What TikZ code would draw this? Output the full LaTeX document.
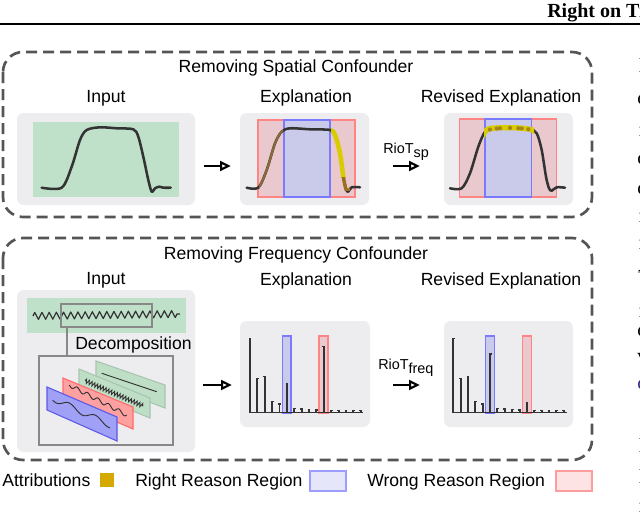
\documentclass[tikz,border=0pt]{standalone}
\usepackage{fontspec}
\setmainfont{Liberation Sans}
\newfontfamily\serifreg{Liberation Serif}
\usetikzlibrary{arrows.meta,decorations.pathmorphing}
\definecolor{boxgray}{HTML}{555555}
\definecolor{panelgray}{HTML}{EDEDF0}
\definecolor{sig}{HTML}{333333}
\definecolor{greenbg}{HTML}{BFE0C9}
\definecolor{regblue}{HTML}{7A7AFF}
\definecolor{regbluefill}{HTML}{CACAEA}
\definecolor{regred}{HTML}{FF8585}
\definecolor{regredfill}{HTML}{E9C9CD}
\definecolor{attr}{HTML}{D6CC00}
\definecolor{attrdark}{HTML}{9A7020}
\definecolor{attrbrown}{HTML}{8A6A3A}
\definecolor{gold}{HTML}{D4A900}
\definecolor{legblue}{HTML}{E6E6FA}
\definecolor{legblueline}{HTML}{9D9DFF}
\definecolor{legred}{HTML}{FDE3E3}
\definecolor{legredline}{HTML}{FF9D9D}
\definecolor{outline}{HTML}{888888}
\definecolor{pgreen}{HTML}{BEDFC6}
\definecolor{pgreenline}{HTML}{A8C4B0}
\definecolor{pred}{HTML}{FFA0A0}
\definecolor{predline}{HTML}{FF6B6B}
\definecolor{pblue}{HTML}{A0A0F6}
\definecolor{pblueline}{HTML}{5A5AE6}
\definecolor{linkblue}{HTML}{303090}
\begin{document}
\begin{tikzpicture}[x=0.75pt,y=-0.75pt,
  frame/.style={draw=boxgray, line width=2pt, dash pattern=on 8.25pt off 4.5pt, rounded corners=15pt},
  panel/.style={fill=panelgray, rounded corners=5pt, inner sep=0pt, draw=none},
  title/.style={font=\fontsize{13.2}{15}\selectfont, anchor=base, inner sep=0pt},
  lbl/.style={font=\fontsize{10.8}{12}\selectfont, anchor=base west, inner sep=0pt},
  sigline/.style={draw=sig, line width=1.9pt, line cap=round, line join=round},
  flow/.style={-{Triangle[open, length=8pt, width=7.5pt, line width=1.6pt]}, line width=1.6pt, draw=black},
  redreg/.style={fill=regredfill, draw=regred, line width=1.1pt},
  bluereg/.style={fill=regbluefill, draw=regblue, line width=1.1pt},
  redbar/.style={fill=regredfill, draw=regred, line width=0.9pt},
  bluebar/.style={fill=regbluefill, draw=regblue, line width=0.9pt},
  stemline/.style={draw=sig, line width=1.45pt},
  axisline/.style={draw=sig, line width=0.9pt},
  outl/.style={draw=outline, line width=1.1pt, inner sep=0pt},
  thin/.style={draw=sig, line width=0.7pt},
  frag/.style={font=\serifreg\fontsize{15}{18}\selectfont, anchor=base west, inner sep=0pt}
]
\clip (0,0) rectangle (640,514);
\fill[white] (0,0) rectangle (640,514);

% header of the page
\node[anchor=base west, inner sep=0pt, font=\serifreg\bfseries\fontsize{15}{18}\selectfont] (hdr) at (547,17) {Right on Time};
\draw[line width=1.2pt] (0,24) -- (640,24);

% fragments of the neighbouring text column
\foreach \yy/\ch/\xx in {72/l/638.5, 104/c/637, 136/n/638.5, 164/c/637, 194/c/637, 222/r/638.5, 249/r/638.5, 283/T/638, 317/n/638.5, 336/c/637, 362/v/637, 452/l/638.5, 483/l/638.5, 512/n/638.5}
  \node[frag] at (\xx,\yy) {\ch};
\node[frag, text=linkblue] at (637,389) {c};

% ---------------- top frame
\draw[frame] (3,52) rectangle (592,217);
\node[title] (t1) at (296,72) {Removing Spatial Confounder};
\node[title] at (106,102.5) {Input};
\node[title] at (306,102.5) {Explanation};
\node[title] at (501,102.5) {Revised Explanation};

\node[panel, minimum width=133.5pt, minimum height=69pt] (inA) at (106,159) {};
\node[panel, minimum width=96.75pt, minimum height=69pt] (exA) at (304.5,159) {};
\node[panel, minimum width=96.75pt, minimum height=69pt] (reA) at (508.5,159) {};

% input
\fill[greenbg] (33,122) rectangle (179,197);
\draw[sigline] plot[smooth, tension=0.5] coordinates {(41.7,187.7) (61.7,187.7) (71.7,166.7) (80,140) (86.7,130) (100,127.3) (116.7,128.3) (133.3,129.3) (138.3,136.7) (143.3,156.7) (148.3,180) (151.7,191.7) (155,188.3) (159.3,186.7) (163.3,187.7) (170.7,187.7)};

% explanation
\filldraw[redreg] (258,120) rectangle (284,197);
\filldraw[redreg] (330,120) rectangle (355,197);
\filldraw[bluereg] (284,120) rectangle (330,197);
\def\curveA{(246.7,187.7) (258.3,187.7) (266.7,170) (275,143.3) (281.7,131.7) (290,128.3) (310,129.3) (330,130) (335,135) (340,153.3) (343.3,176.7) (346,189.3) (348.3,191.7) (351.7,187.3) (360,187.3)}
\draw[sigline] plot[smooth, tension=0.5] coordinates {\curveA};
\begin{scope}
  \clip (259,100) rectangle (283,200);
  \draw[line width=1.6pt, draw=attrbrown] plot[smooth, tension=0.5] coordinates {\curveA};
\end{scope}
\begin{scope}
  \clip (331,100) rectangle (350,177);
  \draw[line width=3.4pt, draw=attr] plot[smooth, tension=0.5] coordinates {\curveA};
\end{scope}
\begin{scope}
  \clip (338,177) rectangle (350,190);
  \draw[line width=2.6pt, draw=attrdark] plot[smooth, tension=0.5] coordinates {\curveA};
\end{scope}

% revised explanation
\filldraw[redreg] (459.3,119) rectangle (485,197);
\filldraw[redreg] (531.7,119) rectangle (556.7,197);
\filldraw[bluereg] (485,119) rectangle (531.7,197);
\def\curveB{(450,188.3) (461.7,188.3) (470,173.3) (478.3,146.7) (485,131.7) (491.7,128.3) (513.3,127.7) (530,129.3) (536.7,133.3) (541.7,150) (546,176.7) (549,188.3) (551.7,190.7) (556.7,187.3) (565,187.7)}
\draw[sigline] plot[smooth, tension=0.5] coordinates {\curveB};
\begin{scope}
  \clip (484,100) rectangle (534,140);
  \draw[line width=4pt, draw=attr] plot[smooth, tension=0.5] coordinates {\curveB};
\end{scope}
\foreach \xx/\yy in {490/129.6, 496.7/128.6, 500/128.3, 510/127.9, 518.3/128.2, 521.7/128.4, 528.3/129.2}
  \fill[attrdark, opacity=0.75] (\xx,\yy) circle (1.6pt);

% arrows
\draw[flow] ([xshift=6.75pt,yshift=-5.25pt]inA.east) -- ([xshift=-6.75pt,yshift=-5.25pt]exA.west);
\draw[flow] ([xshift=18pt,yshift=-5.25pt]exA.east) -- ([xshift=-18pt,yshift=-5.25pt]reA.west);
\node[lbl] (rsp) at (383,153) {RioT\raisebox{-3pt}{sp}};

% ---------------- bottom frame
\draw[frame] (3,238) rectangle (592,460);
\node[title] (t2) at (296,259) {Removing Frequency Confounder};
\node[title] at (106,284) {Input};
\node[title] at (306,285) {Explanation};
\node[title] at (501,285) {Revised Explanation};

\node[panel, minimum width=133.5pt, minimum height=121.5pt] (inB) at (106,371) {};
\node[panel, minimum width=97.5pt, minimum height=79.5pt] (exB) at (305,374) {};
\node[panel, minimum width=96.75pt, minimum height=79.5pt] (reB) at (508.5,374) {};

% input with decomposition
\fill[greenbg] (27,298) rectangle (186,333);
\draw[draw=sig, line width=0.9pt, line join=round, decorate, decoration={zigzag, segment length=5.4pt, amplitude=2.6pt}] (33,316) -- (180,314);
\node[outl, minimum width=68.25pt, minimum height=17.25pt] (win) at (106.5,315.5) {};
\node[outl, minimum width=100.5pt, minimum height=66.75pt] (dec) at (106,400.5) {};
\draw[draw=outline, line width=1.1pt] ([xshift=5pt]win.south west) -- ([xshift=5pt]win.south west |- dec.north);
\node[title, anchor=base west] (dtxt) at (75,349) {Decomposition};

% stacked component planes
\filldraw[fill=pgreen, draw=pgreenline, line width=0.8pt] (96,361) -- (165,385) -- (165,408) -- (96,382) -- cycle;
\draw[thin] (101.7,373.3) -- (156.7,391.7);
\filldraw[fill=pgreen, draw=pgreenline, line width=0.8pt] (79,369) -- (150,398) -- (150,418) -- (79,389) -- cycle;
\draw[thin, decorate, decoration={zigzag, segment length=2.3pt, amplitude=1.5pt}] (85,380.7) -- (143.3,406);
\filldraw[fill=pred, draw=predline, line width=0.8pt] (63,378) -- (133,407) -- (133,429) -- (63,399) -- cycle;
\draw[thin] plot[domain=0:1, samples=80, smooth] ({69.3+57.4*\x}, {385+30*\x+2*sin(360*5.5*\x)});
\filldraw[fill=pblue, draw=pblueline, line width=0.8pt] (47,387) -- (117,417) -- (117,441) -- (47,410) -- cycle;
\draw[thin] plot[domain=0:1, samples=80, smooth] ({52.7+57.3*\x}, {398.3+26.7*\x+3*sin(360*2.2*\x+40)});

% explanation spectrum
\filldraw[bluebar] (282.3,336) rectangle (291,413.3);
\filldraw[redbar] (319,336) rectangle (328,413.3);
\draw[axisline] (249,412.7) -- (363,412.7);
\foreach \k/\h in {0/338.3, 1/378.3, 2/376.7, 3/401.7, 4/404, 5/384, 6/408.3, 7/409, 8/409.3, 9/410, 10/346.7, 11/410.5, 12/410.5, 13/410.5, 14/410.5, 15/410.5}{
  \draw[stemline] ({250+7.38*\k},412.7) -- ({250+7.38*\k},\h);
  \draw[draw=sig, line width=1pt] ({250+7.38*\k-1.4},\h) -- ({250+7.38*\k+1.4},\h);
}

% revised spectrum
\filldraw[bluebar] (485.7,336) rectangle (494.7,413.3);
\filldraw[redbar] (522.7,336) rectangle (531.3,413.3);
\draw[axisline] (452,412.7) -- (567,412.7);
\foreach \k/\h in {0/338.3, 1/378.3, 2/376.7, 3/401.7, 4/404, 5/354, 6/408.3, 7/409, 8/409.3, 9/410, 10/402.7, 11/410.5, 12/410.5, 13/410.5, 14/410.5, 15/410.5}{
  \draw[stemline] ({453.3+7.36*\k},412.7) -- ({453.3+7.36*\k},\h);
  \draw[draw=sig, line width=1pt] ({453.3+7.36*\k-1.4},\h) -- ({453.3+7.36*\k+1.4},\h);
}

% arrows
\draw[flow] ([xshift=6pt,yshift=-10.5pt]inB.east) -- ([xshift=-6pt,yshift=-8.25pt]exB.west);
\draw[flow] ([xshift=17.25pt,yshift=-8.25pt]exB.east) -- ([xshift=-18pt,yshift=-8.25pt]reB.west);
\node[lbl] (rfq) at (378,369) {RioT\raisebox{-3pt}{freq}};

% ---------------- legend
\node[title, anchor=base west] (l1) at (2,486) {Attributions};
\fill[gold] (100,473) rectangle (114,487);
\node[title, anchor=base west] (l2) at (135,486) {Right Reason Region};
\filldraw[fill=legblue, draw=legblueline, line width=1.1pt] (310,471) rectangle (346,491);
\node[title, anchor=base west] (l3) at (367,486) {Wrong Reason Region};
\filldraw[fill=legred, draw=legredline, line width=1.1pt] (556,471) rectangle (592,491);
\end{tikzpicture}
\end{document}
